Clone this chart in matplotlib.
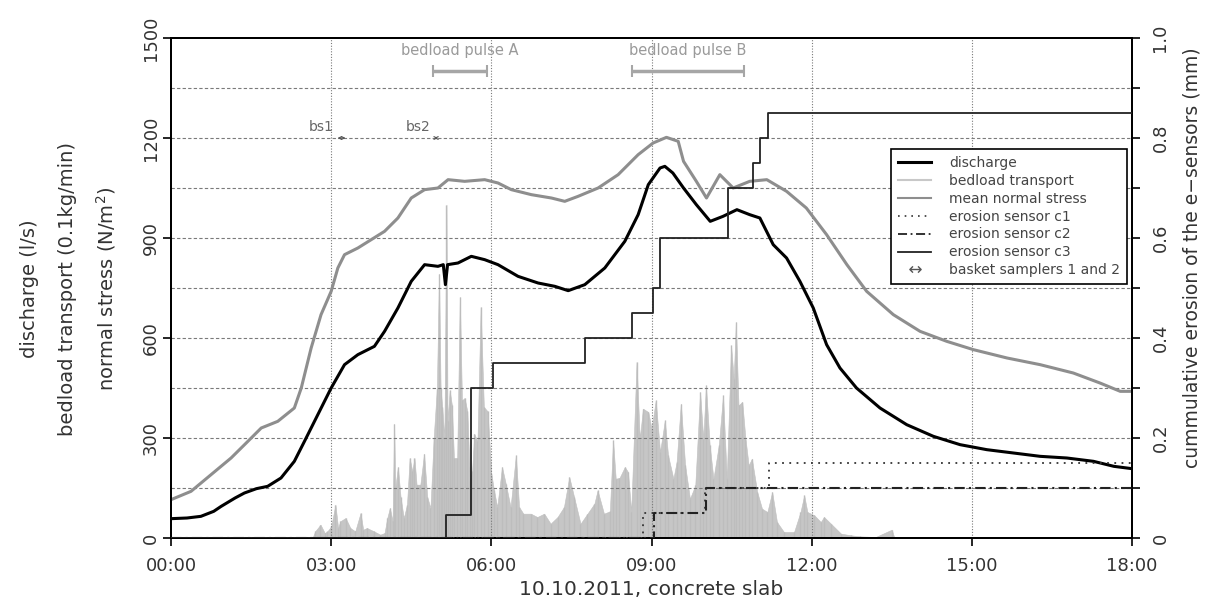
import matplotlib
matplotlib.use('Agg')
import matplotlib.pyplot as plt
from matplotlib.lines import Line2D

# discharge (l/s)
t_discharge = [0.0, 0.3, 0.56, 0.8, 0.94, 1.2, 1.375, 1.6, 1.81, 2.06, 2.31, 2.5, 2.75, 3.0,
               3.25, 3.5, 3.81, 4.0, 4.25, 4.5, 4.75, 5.0, 5.1, 5.14, 5.18, 5.375, 5.625, 5.875,
               6.125, 6.5, 6.875, 7.19, 7.44, 7.75, 8.125, 8.5, 8.75, 8.94, 9.16, 9.25, 9.4,
               9.6, 9.84, 10.1, 10.34, 10.6, 10.84, 11.03, 11.28, 11.53, 11.78, 12.03, 12.28,
               12.53, 12.84, 13.28, 13.78, 14.28, 14.78, 15.28, 15.78, 16.28, 16.78, 17.28,
               17.66, 18.0]
discharge = [58, 60, 65, 80, 95, 120, 135, 148, 155, 180, 230, 290, 370, 450,
             520, 550, 575, 620, 690, 770, 820, 815, 820, 760, 820, 825, 845, 835,
             820, 785, 765, 755, 742, 760, 810, 890, 970, 1060, 1110, 1115, 1095,
             1050, 1000, 950, 965, 985, 970, 960, 880, 840, 770, 690, 580,
             510, 450, 390, 340, 305, 280, 265, 255, 245, 240, 230,
             215, 208]

# mean normal stress (N/m2)
t_stress = [0.0, 0.375, 0.75, 1.125, 1.44, 1.69, 2.0, 2.31, 2.44, 2.625, 2.81, 3.0, 3.125,
            3.25, 3.5, 3.75, 4.0, 4.25, 4.5, 4.75, 5.0, 5.19, 5.5, 5.875, 6.125, 6.375, 6.75,
            7.125, 7.375, 7.625, 8.0, 8.375, 8.75, 9.03, 9.28, 9.5, 9.6, 9.84, 10.03, 10.28,
            10.53, 10.84, 11.16, 11.53, 11.9, 12.28, 12.66, 13.03, 13.53, 14.03, 14.53,
            15.03, 15.66, 16.28, 16.9, 17.4, 17.78, 18.0]
stress = [115, 140, 190, 240, 290, 330, 350, 390, 450, 570, 670, 740, 810,
          850, 870, 895, 920, 960, 1020, 1045, 1050, 1075, 1070, 1075, 1065, 1045, 1030,
          1020, 1010, 1025, 1050, 1090, 1150, 1185, 1202, 1190, 1130, 1070, 1020, 1090,
          1050, 1070, 1075, 1040, 990, 910, 820, 740, 670, 620, 590,
          565, 540, 520, 495, 465, 440, 440]

# bedload transport (0.1 kg/min)
t_bedload = [2.65, 2.7, 2.8, 2.88, 2.93, 3.0, 3.08, 3.13, 3.17, 3.27, 3.36, 3.45, 3.55, 3.6,
             3.67, 3.8, 3.92, 4.0, 4.05, 4.1, 4.15, 4.18, 4.2, 4.25, 4.3, 4.36, 4.42, 4.47,
             4.52, 4.56, 4.6, 4.67, 4.74, 4.8, 4.86, 4.92, 4.98, 5.02, 5.05, 5.08, 5.12,
             5.16, 5.18, 5.22, 5.26, 5.3, 5.36, 5.41, 5.45, 5.5, 5.55, 5.6, 5.64, 5.68, 5.74,
             5.8, 5.86, 5.93, 6.0, 6.05, 6.11, 6.2, 6.27, 6.36, 6.46, 6.52, 6.6, 6.74, 6.86,
             6.99, 7.11, 7.24, 7.36, 7.46, 7.55, 7.67, 7.8, 7.93, 7.99, 8.11, 8.22, 8.28,
             8.33, 8.4, 8.5, 8.56, 8.62, 8.72, 8.78, 8.84, 8.94, 9.0, 9.08, 9.16, 9.25, 9.31,
             9.41, 9.47, 9.55, 9.63, 9.72, 9.82, 9.91, 9.97, 10.02, 10.09, 10.16, 10.26,
             10.34, 10.41, 10.49, 10.54, 10.58, 10.63, 10.7, 10.76, 10.82, 10.88, 10.98,
             11.07, 11.17, 11.26, 11.35, 11.48, 11.67, 11.79, 11.86, 11.92, 12.05, 12.17,
             12.23, 12.36, 12.55, 12.74, 12.9, 13.2, 13.5, 13.55, 14.0]
bedload = [0, 20, 40, 15, 20, 35, 100, 30, 50, 60, 30, 20, 75, 25,
           30, 20, 10, 15, 60, 90, 50, 343, 150, 213, 123, 60, 100, 240,
           200, 240, 160, 160, 253, 123, 90, 300, 450, 793, 450, 393, 300,
           1000, 350, 443, 400, 240, 240, 723, 413, 420, 380, 170, 200, 313, 290,
           693, 393, 380, 193, 143, 93, 213, 163, 93, 248, 93, 73, 73, 63,
           73, 43, 63, 93, 183, 123, 43, 73, 103, 143, 73, 80, 293,
           178, 180, 213, 198, 78, 528, 298, 388, 378, 328, 413, 258, 353, 248,
           178, 228, 403, 218, 118, 158, 438, 298, 458, 278, 178, 278,
           428, 178, 578, 478, 648, 398, 408, 298, 218, 238, 138,
           88, 78, 138, 48, 18, 18, 78, 128, 78, 68, 48,
           63, 43, 13, 8, 5, 3, 25, 0, 0]

# cumulative erosion of the e-sensors (mm), step changes
t_c1 = [0, 8.84, 10.0, 11.2, 18]
c1 = [0, 0.05, 0.1, 0.15, 0.15]
t_c2 = [0, 9.04, 10.02, 18]
c2 = [0, 0.05, 0.1, 0.1]
t_c3 = [0, 5.16, 5.61, 6.04, 7.75, 8.63, 9.03, 9.16, 10.44, 10.9, 11.03, 11.19, 18]
c3 = [0, 0.047, 0.3, 0.35, 0.4, 0.45, 0.5, 0.6, 0.7, 0.75, 0.8, 0.85, 0.85]

# bedload pulses (start, end) and basket samplers (start, end)
pulse_names = ['bedload pulse A', 'bedload pulse B']
pulse_start = [4.9, 8.63]
pulse_end = [5.92, 10.73]
sampler_names = ['bs1', 'bs2']
sampler_start = [3.12, 4.93]
sampler_end = [3.27, 5.0]

xticks = [0, 3, 6, 9, 12, 15, 18]
xtick_labels = ['00:00', '03:00', '06:00', '09:00', '12:00', '15:00', '18:00']

fig = plt.figure(figsize=(12.21, 6.03), dpi=100)
ax = fig.add_axes([171/1221, 65/603, 961/1221, 500/603])

ax.fill_between(t_bedload, bedload, 0, color='#c6c6c6', lw=0.4, edgecolor='#c0c0c0', zorder=1)
ax.vlines(t_bedload, 0, bedload, color='#bdbdbd', lw=1.0, zorder=1)

for v in range(150, 1500, 150):
    ax.axhline(v, color='#7a7a7a', lw=0.8, ls=(0, (3, 2)), zorder=1.5)
for h in xticks[1:-1]:
    ax.axvline(h, color='#7a7a7a', lw=0.8, ls=(0, (1, 1.5)), zorder=1.5)

ax.plot(t_stress, stress, color='#8e8e8e', lw=2.2, zorder=3)
ax.plot(t_discharge, discharge, color='black', lw=2.2, zorder=4)

for name, a, b in zip(pulse_names, pulse_start, pulse_end):
    ax.errorbar(x=(a+b)/2, y=1400, xerr=(b-a)/2, fmt='none', ecolor='#a6a6a6',
                elinewidth=2.5, capsize=4, capthick=1.5, zorder=5)
    ax.text((a+b)/2, 1440, name, color='#9a9a9a', fontsize=10.5, ha='center', va='bottom')

for name, a, b in zip(sampler_names, sampler_start, sampler_end):
    ax.annotate('', xy=(b, 1200), xytext=(a, 1200),
                arrowprops=dict(arrowstyle='<->', lw=0.8, color='#555555', mutation_scale=5,
                                shrinkA=0, shrinkB=0), zorder=5)
    ax.text(a - 0.3, 1212, name, color='#666666', fontsize=10, ha='center', va='bottom')

ax.set_xlim(0, 18)
ax.set_ylim(0, 1500)
ax.set_xticks(xticks)
ax.set_xticklabels(xtick_labels)
ax.set_yticks(range(0, 1501, 300))
ax.set_yticklabels([str(v) for v in range(0, 1501, 300)], rotation=90, va='center')
ax.tick_params(axis='x', direction='out', length=6, width=1.2, pad=8, labelsize=13,
               labelcolor='#333333')
ax.tick_params(axis='y', direction='out', length=6, width=1.2, pad=2, labelsize=13,
               labelcolor='#333333')
ax.set_xlabel('10.10.2011, concrete slab', fontsize=14.5, color='#333333', labelpad=3)

ax2 = ax.twinx()
ax2.step(t_c1, c1, where='post', color='#333333', lw=1.3, ls=(0, (1, 3)), zorder=3)
ax2.step(t_c2, c2, where='post', color='#222222', lw=1.5, ls=(0, (5, 2, 1, 2)), zorder=3)
ax2.step(t_c3, c3, where='post', color='#222222', lw=1.3, zorder=3)
ax2.set_ylim(0, 1.0)
ax2.set_yticks([0, 0.2, 0.4, 0.6, 0.8, 1.0])
ax2.set_yticklabels(['0', '0.2', '0.4', '0.6', '0.8', '1.0'], rotation=90, va='center')
ax2.set_yticks([0.1, 0.3, 0.5, 0.7, 0.9], minor=True)
ax2.tick_params(axis='y', which='both', direction='out', length=6, width=1.2, pad=8,
                labelsize=13, labelcolor='#333333')

for a in (ax, ax2):
    for s in a.spines.values():
        s.set_linewidth(1.4)

handles = [
    Line2D([], [], color='black', lw=2.2),
    Line2D([], [], color='#c8c8c8', lw=1.5),
    Line2D([], [], color='#8e8e8e', lw=1.5),
    Line2D([], [], color='#333333', lw=1.2, ls=(0, (1, 3))),
    Line2D([], [], color='#222222', lw=1.3, ls=(0, (5, 2, 1, 2))),
    Line2D([], [], color='#222222', lw=1.3),
    Line2D([], [], color='#555555', ls='none', marker='$\u2194$', markersize=9,
           markeredgewidth=0),
]
labels = ['discharge', 'bedload transport', 'mean normal stress', 'erosion sensor c1',
          'erosion sensor c2', 'erosion sensor c3', 'basket samplers 1 and 2']
leg = ax2.legend(handles, labels, loc='upper right', bbox_to_anchor=(0.995, 0.778),
                 borderaxespad=0, fontsize=10, labelspacing=0.28, handlelength=2.4,
                 handletextpad=1.3, fancybox=False, framealpha=1, edgecolor='black',
                 borderpad=0.5)
leg.get_frame().set_linewidth(1.2)
for txt in leg.get_texts():
    txt.set_color('#444444')

fig.text(30/1221, 1 - 289/603, 'discharge (l/s)', rotation=90, ha='center', va='center',
         fontsize=14, color='#333333')
fig.text(68/1221, 1 - 289/603, 'bedload transport (0.1kg/min)', rotation=90, ha='center',
         va='center', fontsize=14, color='#333333')
fig.text(106/1221, 1 - 289/603, 'normal stress (N/m$^2$)', rotation=90, ha='center',
         va='center', fontsize=14, color='#333333')
fig.text(1192/1221, 1 - 258/603, 'cummulative erosion of the e\u2212sensors (mm)', rotation=90,
         ha='center', va='center', fontsize=13.5, color='#333333')

fig.savefig('out.png', dpi=100)
